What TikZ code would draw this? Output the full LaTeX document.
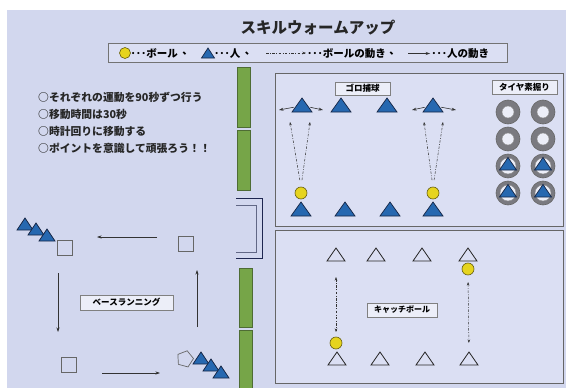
\documentclass[tikz,border=0pt]{standalone}
\usepackage{fontspec}
\setmainfont{Noto Sans CJK JP}
\usetikzlibrary{shapes.geometric,arrows.meta}
\definecolor{bg}{RGB}{210,215,238}
\definecolor{panelc}{RGB}{219,223,243}
\definecolor{lblc}{RGB}{236,238,248}
\definecolor{tblue}{RGB}{38,104,176}
\definecolor{tline}{RGB}{22,38,70}
\definecolor{ballc}{RGB}{230,212,30}
\definecolor{grn}{RGB}{118,165,72}
\definecolor{grnd}{RGB}{78,108,52}
\definecolor{navy}{RGB}{30,38,80}
\definecolor{tirec}{RGB}{122,122,128}
\begin{document}
\begin{tikzpicture}[x=1pt,y=-1pt,
 tri/.style={isosceles triangle, isosceles triangle apex angle=72, shape border rotate=90, isosceles triangle stretches, inner sep=0pt, outer sep=0pt, anchor=apex},
 bluetri/.style={tri, minimum width=20pt, minimum height=14pt, fill=tblue, draw=tline, line width=0.7pt},
 whitetri/.style={tri, minimum width=18pt, minimum height=13pt, draw=black!85, line width=0.8pt},
 ball/.style={circle, minimum size=12pt, inner sep=0pt, outer sep=0pt, fill=ballc, draw=black!55!ballc, line width=0.6pt},
 basesq/.style={draw=black!60, line width=0.7pt, minimum size=15pt, inner sep=0pt},
 pa/.style={-{Stealth[length=4.5pt,width=3pt]}, draw=black!80, line width=0.6pt},
 ba/.style={-{Stealth[length=3.5pt,width=2.5pt]}, draw=black!80, line width=0.5pt, dash pattern=on 2.5pt off 1.5pt on 0.8pt off 1.5pt},
 bda/.style={{Stealth[length=3.5pt,width=2.5pt]}-{Stealth[length=3.5pt,width=2.5pt]}, draw=black!80, line width=0.5pt, dash pattern=on 2.5pt off 1.5pt on 0.8pt off 1.5pt},
 lbl/.style={draw=black!50, fill=lblc, font=\bfseries\fontsize{8.5}{9}\selectfont, inner sep=0pt},
 greenbar/.style={fill=grn, draw=grnd, line width=0.5pt},
 panelbox/.style={draw=black!60, fill=panelc, line width=0.7pt, inner sep=0pt},
 tire/.style={circle, minimum size=24pt, inner sep=0pt, fill=tirec, draw=black!60, line width=0.6pt},
 hole/.style={circle, minimum size=12pt, inner sep=0pt, fill=lblc, draw=black!45, line width=0.4pt},
 lgtxt/.style={font=\bfseries\fontsize{10.5}{11}\selectfont, inner sep=0pt, anchor=west},
 listtxt/.style={font=\bfseries\fontsize{10.8}{11}\selectfont, inner sep=0pt, anchor=west, text=black!85}
]
\useasboundingbox (0,0) rectangle (566,388);
\fill[white] (0,0) rectangle (566,388);
\fill[bg] (7,10) rectangle (566,388);

% title and legend
\node[font=\bfseries\fontsize{15.5}{16}\selectfont, text=black!85] (title) at (318,28) {スキルウォームアップ};
\node[draw=black!55, fill=panelc, line width=0.6pt, minimum width=399pt, minimum height=19pt, inner sep=0pt] (legendbox) at (307.5,52.5) {};
\node[ball, minimum size=11pt] (lgball) at (125,53) {};
\node[lgtxt] (lg1) at (130.5,53.5) {･･･ボール};
\node[lgtxt] (lg1c) at ([xshift=4pt]lg1.east) {、};
\node[bluetri, minimum width=13pt, minimum height=10pt] (lgtri) at (208,48) {};
\node[lgtxt] (lg2) at (214,53.5) {･･･人};
\node[lgtxt] (lg2c) at ([xshift=4pt]lg2.east) {、};
\coordinate (lgda) at (266,53);
\coordinate (lgdb) at (306,53);
\draw[ba] (lgda) -- (lgdb);
\node[lgtxt] (lg3) at (307,53.5) {･･･ボールの動き};
\node[lgtxt] (lg3c) at ([xshift=3pt]lg3.east) {、};
\coordinate (lgsa) at ([xshift=8pt]lg3c.east);
\coordinate (lgsb) at ([xshift=30pt]lg3c.east);
\draw[pa] (lgsa) -- (lgsb);
\node[lgtxt] (lg4) at ([xshift=1pt]lgsb) {･･･人の動き};

% list of instructions
\node[listtxt] (l1) at (38,97) {○それぞれの運動を90秒ずつ行う};
\node[listtxt] (l2) at (38,114) {○移動時間は30秒};
\node[listtxt] (l3) at (38,131) {○時計回りに移動する};
\node[listtxt] (l4) at (38,148) {○ポイントを意識して頑張ろう！！};

% green bars and bracket
\draw[greenbar] (237,67) rectangle (250,127);
\draw[greenbar] (237,130) rectangle (250,190);
\draw[greenbar] (239,268) rectangle (252,327);
\draw[greenbar] (239,330) rectangle (252,392);
\draw[navy, line width=0.9pt] (236,198) -- (262,198) -- (262,258) -- (236,258);
\draw[navy!70, line width=0.9pt] (236,205) -- (256,205) -- (256,252) -- (236,252);

% panels
\node[panelbox, minimum width=288pt, minimum height=153pt] (ptop) at (419,149.5) {};
\node[panelbox, minimum width=288pt, minimum height=153pt] (pbot) at (419,306.5) {};

% top panel: ground ball
\node[lbl, minimum width=55pt, minimum height=13pt] (goro) at (362.5,88.5) {ゴロ捕球};
\node[lbl, minimum width=65pt, minimum height=14pt] (tiya) at (524.5,87.5) {タイヤ素掘り};
\node[bluetri] (t1) at (302,98) {};
\node[bluetri] (t2) at (341,98) {};
\node[bluetri] (t3) at (387,98) {};
\node[bluetri] (t4) at (433,98) {};
\node[bluetri] (u1) at (301,202) {};
\node[bluetri] (u2) at (345,202) {};
\node[bluetri] (u3) at (390,202) {};
\node[bluetri] (u4) at (433,202) {};
\node[ball] (b1) at (301,193) {};
\node[ball] (b2) at (433,193) {};
\coordinate (t1l) at (279,110);
\coordinate (t1r) at (323,110);
\coordinate (t4l) at (412,110);
\coordinate (t4r) at (456,110);
\draw[pa, shorten <=2pt] (t1.west) -- (t1l);
\draw[pa, shorten <=2pt] (t1.east) -- (t1r);
\draw[pa, shorten <=2pt] (t4.west) -- (t4l);
\draw[pa, shorten <=2pt] (t4.east) -- (t4r);
\coordinate (h1) at (290,122);
\coordinate (h2) at (310,122);
\coordinate (h3) at (424,122);
\coordinate (h4) at (443,122);
\draw[ba, shorten <=7pt] (b1.north) -- (h1);
\draw[ba, shorten <=7pt] (b1.north) -- (h2);
\draw[ba, shorten <=7pt] (b2.north) -- (h3);
\draw[ba, shorten <=7pt] (b2.north) -- (h4);

% tires
\foreach \n/\cx/\cy in {1/508/112,2/543/112,3/508/139,4/543/139}{
  \node[tire] (tire\n) at (\cx,\cy) {};
  \node[hole] (hole\n) at (tire\n) {};
}
\foreach \n/\cx/\cy in {5/508/166,6/543/166,7/508/193,8/543/193}{
  \node[tire] (tire\n) at (\cx,\cy) {};
  \node[hole, minimum size=16pt] (hole\n) at (tire\n) {};
  \node[bluetri, minimum width=17pt, minimum height=12.5pt] (tt\n) at (\cx,\cy-8.5) {};
}

% bottom panel: catch ball
\node[lbl, minimum width=70pt, minimum height=14pt, font=\bfseries\fontsize{8}{9}\selectfont] (catch) at (402,310) {キャッチボール};
\node[whitetri] (w1) at (336,248) {};
\node[whitetri] (w2) at (376,248) {};
\node[whitetri] (w3) at (422,248) {};
\node[whitetri] (w4) at (468,248) {};
\node[whitetri] (w5) at (337,352) {};
\node[whitetri] (w6) at (380,352) {};
\node[whitetri] (w7) at (425,352) {};
\node[whitetri] (w8) at (469,352) {};
\node[ball] (cb1) at (336,343) {};
\node[ball] (cb2) at (468,269) {};
\draw[bda, shorten <=16pt, shorten >=5pt] (w1.south) -- (cb1.north);
\draw[bda, shorten <=7pt, shorten >=9pt] (cb2.south) -- (w8.apex);

% base running
\node[bluetri, minimum width=16pt, minimum height=12pt] (r1) at (25,218) {};
\node[bluetri, minimum width=16pt, minimum height=12pt] (r2) at (36,223) {};
\node[bluetri, minimum width=16pt, minimum height=12pt] (r3) at (47,229) {};
\node[basesq] (sq1) at (65,248) {};
\node[basesq] (sq2) at (186,244) {};
\node[basesq] (sq3) at (69,365) {};
\node[regular polygon, regular polygon sides=5, minimum size=17pt, inner sep=0pt, draw=black!60, line width=0.7pt, rotate=-15] (home) at (185,359) {};
\node[bluetri, minimum width=16pt, minimum height=12pt] (r4) at (201,352) {};
\node[bluetri, minimum width=16pt, minimum height=12pt] (r5) at (211,359) {};
\node[bluetri, minimum width=16pt, minimum height=12pt] (r6) at (221,366) {};
\node[lbl, minimum width=93pt, minimum height=15pt] (base) at (126.5,302.5) {ベースランニング};
\coordinate (m1a) at (157,237);
\coordinate (m1b) at (97,237);
\coordinate (m2a) at (58,273);
\coordinate (m2b) at (58,332);
\coordinate (m3a) at (102,373);
\coordinate (m3b) at (160,373);
\coordinate (m4a) at (197,327);
\coordinate (m4b) at (197,270);
\draw[pa] (m1a) -- (m1b);
\draw[pa] (m2a) -- (m2b);
\draw[pa] (m3a) -- (m3b);
\draw[pa] (m4a) -- (m4b);
\end{tikzpicture}
\end{document}
